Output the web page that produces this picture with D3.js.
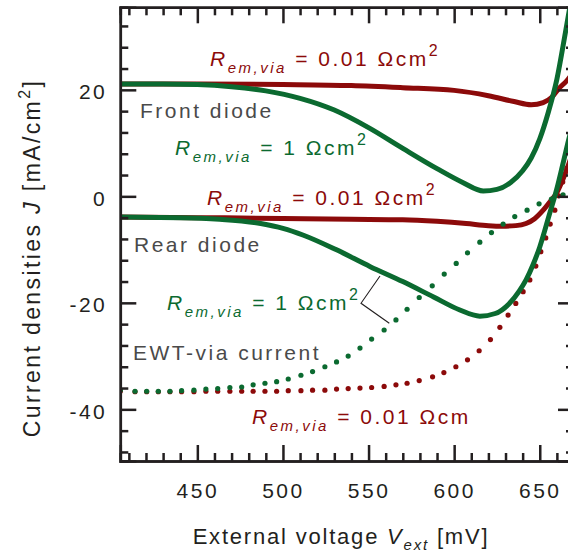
<!DOCTYPE html>
<html>
<head>
<meta charset="utf-8">
<script src="https://cdn.jsdelivr.net/npm/d3@7"></script>
<style>
  body { margin: 0; background: #fff; }
  svg { display: block; font-family: "Liberation Sans", Arial, sans-serif; }
</style>
</head>
<body>
<svg id="chart" width="568" height="557"></svg>
<script>
// ---- data: [V (mV), J (mA/cm2)] ----
var frontLowR = [[405,21.1],[450,21.1],[500,21.0],[540,20.8],[570,20.4],[600,19.9],[620,18.9],[635,17.8],[645,17.2],[652,17.6],[657,18.6],[661,20.2],[666,21.8],[670,23.5]];
var frontHighR = [[405,21.1],[430,21.1],[450,21.0],[470,20.6],[490,19.8],[510,18.4],[530,16.2],[550,12.9],[570,9.0],[590,5.2],[605,2.6],[617,1.0],[625,1.3],[633,2.6],[640,4.8],[645,7.2],[650,10.8],[655,15.8],[660,22.0],[665,30.8],[670,40]];
var rearLowR = [[405,-3.9],[450,-4.0],[500,-4.15],[540,-4.3],[570,-4.4],[590,-4.7],[607,-5.1],[620,-5.5],[628,-5.6],[636,-5.5],[642,-5.1],[647,-4.2],[652,-2.6],[656,-1.0],[660,0.7],[663,2.8],[666.4,5.6],[670,9.0]];
var rearHighR = [[405,-3.9],[440,-4.0],[463,-4.3],[487,-5.1],[500,-6.0],[512,-7.3],[531,-10.0],[551,-13.2],[570,-16.0],[588,-18.9],[603,-21.3],[615,-22.5],[624,-22.0],[632,-20.2],[638,-17.8],[642,-15.7],[646,-12.9],[650,-9.5],[655.8,-3.2],[659.8,1.2],[663.6,6.2],[666.4,10],[670,14.5]];
// EWT-via current, drawn as dots
var viaHighR = [[405,-36.4],[413.6,-36.6],[420.4,-36.6],[427.2,-36.6],[434,-36.6],[440.8,-36.5],[448,-36.4],[455,-36.2],[461.9,-36.1],[469,-35.9],[475.9,-35.8],[482.6,-35.4],[489.5,-35.1],[496.3,-34.8],[503.1,-34.3],[510.5,-33.6],[517.3,-32.9],[524.5,-32.0],[531.3,-31.1],[538.1,-30.0],[545,-28.5],[551.8,-26.8],[559.1,-25.1],[566,-23.2],[572.5,-21.2],[579.6,-19.0],[587.2,-16.8],[594.2,-14.6],[601.2,-12.6],[607.8,-10.6],[615,-8.6],[621.8,-6.8],[628.6,-5.2],[635.4,-3.8],[642.6,-2.6],[649.6,-1.4],[656.8,-0.5],[663.6,0.3]];
var viaLowR = [[405,-36.6],[413.6,-36.7],[420.4,-36.7],[427.2,-36.7],[434,-36.7],[440.8,-36.7],[448,-36.7],[455,-36.6],[461.9,-36.6],[469,-36.6],[475.9,-36.6],[482.6,-36.6],[489.5,-36.6],[496.3,-36.6],[503.1,-36.5],[510.5,-36.5],[517.3,-36.4],[524.5,-36.4],[531.3,-36.2],[538.1,-36.1],[545,-36.0],[551.8,-35.9],[559.1,-35.7],[566,-35.4],[572.5,-35.1],[579.6,-34.6],[587.4,-33.9],[594,-33.1],[601,-32.0],[607.8,-30.7],[614.6,-29.0],[621.2,-26.9],[626.7,-24.6],[631.5,-22.3],[636,-20.1],[640.3,-17.9],[644.2,-15.7],[647.7,-13.1],[650.6,-10.4],[653.5,-7.8],[656.1,-5.2],[658.8,-2.6],[661.1,0.1],[663.4,2.7],[665.8,5.3],[668.1,8.0]];

var xMajor = [450, 500, 550, 600, 650];
var xMinor = d3.range(410, 670, 10);
var yMajor = [-40, -20, 0, 20];
var yMinor = d3.range(-48, 36, 4);

var red = "#8c0a0a", green = "#0b6a30", grey = "#4a4a4a", ink = "#231f20";

var svg = d3.select("#chart"),
    margin = {top: 7.3, left: 120.3},
    width = 453.7,
    height = 453.7,
    g = svg.append("g").attr("transform", "translate(" + margin.left + "," + margin.top + ")");

var x = d3.scaleLinear().domain([405, 670]).range([0, width]);
var y = d3.scaleLinear().domain([-49.7, 35.5]).range([height, 0]);

g.append("clipPath").attr("id", "clip")
  .append("rect").attr("width", width).attr("height", height);

var line = d3.line()
    .x(function(d) { return x(d[0]); })
    .y(function(d) { return y(d[1]); })
    .curve(d3.curveMonotoneX);

var plot = g.append("g").attr("clip-path", "url(#clip)");

// red first, green on top
[frontLowR, rearLowR].forEach(function(s) {
  plot.append("path").datum(s).attr("d", line)
    .attr("fill", "none").attr("stroke", red).attr("stroke-width", 5);
});
plot.append("g").selectAll("circle").data(viaLowR).enter().append("circle")
    .attr("cx", function(d) { return x(d[0]); })
    .attr("cy", function(d) { return y(d[1]); })
    .attr("r", 2.6).attr("fill", red);
[frontHighR, rearHighR].forEach(function(s) {
  plot.append("path").datum(s).attr("d", line)
    .attr("fill", "none").attr("stroke", green).attr("stroke-width", 5);
});
plot.append("g").selectAll("circle").data(viaHighR).enter().append("circle")
    .attr("cx", function(d) { return x(d[0]); })
    .attr("cy", function(d) { return y(d[1]); })
    .attr("r", 2.6).attr("fill", green);

// ---- frame with inward ticks on all four sides ----
function fmt(d) { return String(d); }
function styleAxis(sel) {
  sel.selectAll("path").attr("stroke", ink).attr("stroke-width", 2.5);
  sel.selectAll("line").attr("stroke", ink).attr("stroke-width", 2.5);
  sel.selectAll("text").attr("fill", ink).style("font-size", "21px").style("letter-spacing", "2.5px");
}
var minorX = xMinor.filter(function(v) { return xMajor.indexOf(v) < 0; });
var minorY = yMinor.filter(function(v) { return yMajor.indexOf(v) < 0; });

g.append("g").attr("transform", "translate(0," + height + ")")
  .call(d3.axisBottom(x).tickValues(minorX).tickSize(-8).tickFormat(""))
  .call(styleAxis);
g.append("g").attr("transform", "translate(0," + height + ")")
  .call(d3.axisBottom(x).tickValues(xMajor).tickSize(-16).tickPadding(22).tickFormat(fmt))
  .call(styleAxis);
g.append("g")
  .call(d3.axisTop(x).tickValues(minorX).tickSize(-8).tickFormat(""))
  .call(styleAxis);
g.append("g")
  .call(d3.axisTop(x).tickValues(xMajor).tickSize(-16).tickFormat(""))
  .call(styleAxis);
g.append("g")
  .call(d3.axisLeft(y).tickValues(minorY).tickSize(-8).tickFormat(""))
  .call(styleAxis);
g.append("g")
  .call(d3.axisLeft(y).tickValues(yMajor).tickSize(-16).tickPadding(13).tickFormat(fmt))
  .call(styleAxis)
  .selectAll("text").attr("dy", "0.42em");
g.append("g").attr("transform", "translate(" + width + ",0)")
  .call(d3.axisRight(y).tickValues(minorY).tickSize(-8).tickFormat(""))
  .call(styleAxis);
g.append("g").attr("transform", "translate(" + width + ",0)")
  .call(d3.axisRight(y).tickValues(yMajor).tickSize(-16).tickFormat(""))
  .call(styleAxis);

// ---- axis titles ----
var xt = svg.append("text")
    .attr("x", 341).attr("y", 544)
    .attr("text-anchor", "middle")
    .attr("fill", ink)
    .style("font-size", "22px").style("letter-spacing", "1.8px").style("white-space", "pre");
xt.append("tspan").text("External voltage ");
xt.append("tspan").attr("font-style", "italic").text("V");
xt.append("tspan").attr("font-style", "italic").attr("font-size", "15px").attr("dy", 6).text("ext");
xt.append("tspan").attr("dy", -6).text(" [mV]");

var yt = svg.append("text")
    .attr("transform", "translate(40,258) rotate(-90)")
    .attr("text-anchor", "middle")
    .attr("fill", ink)
    .style("font-size", "23px").style("letter-spacing", "2.4px").style("white-space", "pre");
yt.append("tspan").text("Current densities ");
yt.append("tspan").attr("font-style", "italic").text("J");
yt.append("tspan").text(" [mA/cm");
yt.append("tspan").attr("font-size", "16px").attr("dy", -10).text("2");
yt.append("tspan").attr("dy", 10).text("]");

// ---- annotations ----
function rLabel(px, py, color, val, sup) {
  var t = svg.append("text").attr("x", px).attr("y", py).attr("fill", color)
      .style("font-size", "21px").style("letter-spacing", "2.5px").style("white-space", "pre");
  t.append("tspan").attr("font-style", "italic").text("R");
  t.append("tspan").attr("font-style", "italic").attr("font-size", "15px").attr("dy", 7).text("em,via");
  t.append("tspan").attr("dy", -7).text(" = " + val + " \u03A9cm");
  if (sup) t.append("tspan").attr("font-size", "16px").attr("dy", -10).text("2");
}
function note(px, py, txt) {
  svg.append("text").attr("x", px).attr("y", py).attr("fill", grey)
    .style("font-size", "21px").style("letter-spacing", "2.5px").text(txt);
}

rLabel(210, 66, red, "0.01", true);
note(140, 118, "Front diode");
rLabel(175, 155, green, "1", true);
rLabel(207, 205, red, "0.01", true);
note(134, 252, "Rear diode");
rLabel(167, 310, green, "1", true);
note(133, 360, "EWT-via current");
rLabel(252, 424, red, "0.01", false);

// bracket pointing at the two 1 Ohm cm2 curves
svg.append("path")
  .attr("d", "M380,276L361,303.3L389.3,323.3")
  .attr("fill", "none").attr("stroke", ink).attr("stroke-width", 1.1);
</script>
</body>
</html>
